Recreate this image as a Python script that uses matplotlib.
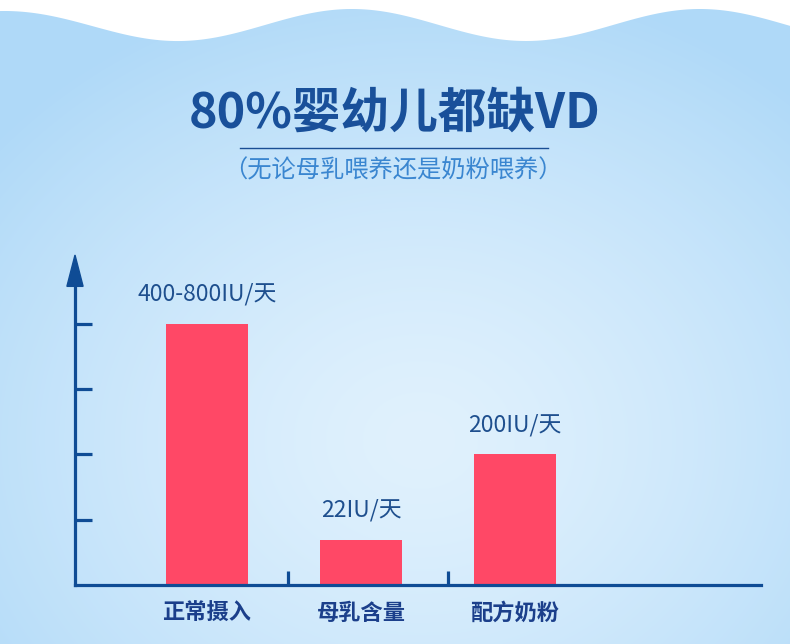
import numpy as np
import matplotlib
matplotlib.use("Agg")
import matplotlib.pyplot as plt
from matplotlib.colors import to_rgb

plt.rcParams['font.family'] = ['Noto Sans CJK SC', 'DejaVu Sans']

# 数据
categories = ['正常摄入', '母乳含量', '配方奶粉']
bar_heights = [800, 138, 400]          # 图中柱子的示意高度
value_labels = ['400-800IU/天', '22IU/天', '200IU/天']
y_ticks = [200, 400, 600, 800]
sep_ticks = [0.526, 1.565]

title = '80%婴幼儿都缺VD'
subtitle = '（无论母乳喂养还是奶粉喂养）'

AXIS_COLOR = '#0f4c95'
BAR_COLOR = '#ff4866'
W, H = 790, 644

fig = plt.figure(figsize=(W / 100, H / 100), dpi=100)

# 背景渐变
bg = fig.add_axes([0, 0, 1, 1])
yy, xx = np.mgrid[0:H, 0:W]
d = np.sqrt(((xx - 420) / 560) ** 2 + ((yy - 440) / 470) ** 2)
d = np.clip(d, 0, 1) ** 1.4
inner = np.array(to_rgb('#e0f1fd'))
outer = np.array(to_rgb('#afd9f8'))
img = inner[None, None, :] + (outer - inner)[None, None, :] * d[:, :, None]
bg.imshow(img, extent=[0, W, H, 0], aspect='auto', zorder=0)

# 顶部白色波浪
wx = np.linspace(0, W, 400)
wave = 25 - 16 * np.cos(2 * np.pi * (wx - 352) / 348) + 2 * np.exp(-((wx - 0) / 90) ** 2)
bg.fill_between(wx, 0, wave, color='white', zorder=1, lw=0)
bg.set_xlim(0, W)
bg.set_ylim(H, 0)
bg.axis('off')

# 标题
bg.text(395, 113, title, fontsize=35, fontweight='bold', color='#19509a',
        ha='center', va='center', zorder=3)
bg.plot([240, 548], [148, 148], color='#1a4e94', lw=1, zorder=3)
bg.text(393, 170, subtitle, fontsize=17.5, color='#3a86d0',
        ha='center', va='center', zorder=3)

# 柱状图
ax = fig.add_axes([75 / W, (H - 585) / H, 686 / W, 330 / H])
ax.set_facecolor('none')
x = np.arange(len(categories))
ax.bar(x, bar_heights, width=0.53, color=BAR_COLOR, zorder=2)

for xi, h, lab in zip(x, bar_heights, value_labels):
    ax.annotate(lab, (xi, h), xytext=(0, 13), textcoords='offset points',
                ha='center', va='bottom', fontsize=16.5, color='#1e4f8e')

ax.set_xlim(-0.857, 3.597)
ax.set_ylim(0, 1011)

for s in ['top', 'right']:
    ax.spines[s].set_visible(False)
for s in ['left', 'bottom']:
    ax.spines[s].set_color(AXIS_COLOR)
    ax.spines[s].set_linewidth(2.3)
ax.spines['left'].set_bounds(0, 960)

ax.set_yticks(y_ticks)
ax.set_yticklabels([])
ax.tick_params(axis='y', direction='in', length=12, width=2.3, color=AXIS_COLOR)

ax.set_xticks(x, labels=categories)
ax.tick_params(axis='x', which='major', length=0, pad=12)
for t in ax.get_xticklabels():
    t.set_fontsize(16)
    t.set_fontweight('bold')
    t.set_color('#1b3f8b')
ax.set_xticks(sep_ticks, minor=True)
ax.tick_params(axis='x', which='minor', direction='in', length=10, width=2.3,
               color=AXIS_COLOR)

# y轴箭头
ax.fill([-0.0118, 0.0118, 0], [0.905, 0.905, 1.0], color=AXIS_COLOR,
        transform=ax.transAxes, clip_on=False, zorder=3)

fig.savefig('out.png', dpi=100)
